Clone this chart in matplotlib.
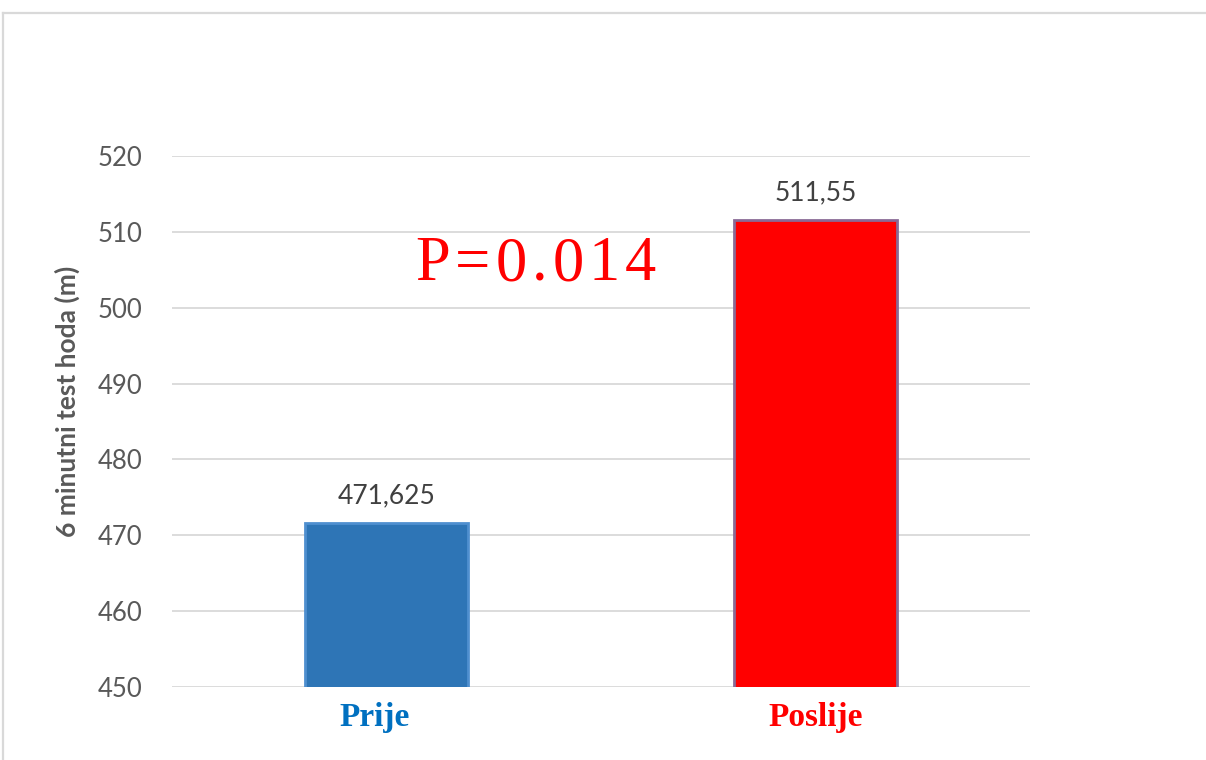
import matplotlib
matplotlib.use('Agg')
import matplotlib.pyplot as plt
import matplotlib.transforms as mtransforms
from matplotlib.lines import Line2D

# data
categories = ['Prije', 'Poslije']
values = [471.625, 511.55]
value_labels = ['471,625', '511,55']
yticks = [450, 460, 470, 480, 490, 500, 510, 520]
ylabel = '6 minutni test hoda (m)'
p_text = 'P=0.014'

bar_colors = ['#2E75B6', '#FF0000']
edge_colors = ['#4F8FCF', '#8A6A96']
cat_colors = ['#0070C0', '#FF0000']

fig = plt.figure(figsize=(12.06, 7.6), dpi=100)
ax = fig.add_axes([172/1206, 1 - 687/760, 858/1206, 531/760])

x = range(len(categories))
ax.bar(x, values, width=0.378, color=bar_colors, edgecolor=edge_colors,
       linewidth=2, zorder=3)

ax.set_xlim(-0.5, 1.5)
ax.set_ylim(450, 520)
ax.set_yticks(yticks)
ax.grid(axis='y', color='#D9D9D9', linewidth=1.3, zorder=0)
for s in ax.spines.values():
    s.set_visible(False)
ax.tick_params(axis='y', length=0, pad=21, labelsize=18.5, labelcolor='#595959')
ax.tick_params(axis='x', length=0, pad=11)
for lbl in ax.get_yticklabels():
    lbl.set_fontfamily('Lato')

ax.set_xticks(list(x))
ax.set_xticklabels(categories, fontfamily='Liberation Serif', fontweight='bold', fontsize=24)
for lbl, c in zip(ax.get_xticklabels(), cat_colors):
    lbl.set_color(c)
# Excel puts the first label a little left of the bar centre
first = ax.get_xticklabels()[0]
first.set_transform(first.get_transform() + mtransforms.ScaledTranslation(-12/100, 0, fig.dpi_scale_trans))

ax.set_ylabel(ylabel, fontfamily='Lato', fontweight='bold', fontsize=19, color='#595959')
ax.yaxis.set_label_coords(-0.107, 0.537)

for xi, v, t in zip(x, values, value_labels):
    ax.annotate(t, xy=(xi, v), xytext=(0, 14), textcoords='offset points',
                ha='center', va='baseline', fontsize=19, color='#404040', fontfamily='Lato')

# P value with widened letter spacing: draw char by char
renderer = fig.canvas.get_renderer()
gap = 5  # extra px between letters
pieces = []
for ch in p_text:
    t = ax.text(0, 0, ch, color='#FF0000', fontsize=45, fontfamily='Liberation Serif',
                ha='left', va='center')
    pieces.append((t, t.get_window_extent(renderer).width))
total = sum(w for _, w in pieces) + gap * (len(pieces) - 1)
cx, cy = ax.transData.transform((0.348, 505.6))
px = cx - total / 2
for t, w in pieces:
    t.set_position(ax.transData.inverted().transform((px, cy)))
    px += w + gap

# outer frame (top and left edges)
fig.add_artist(Line2D([3/1206, 1], [1 - 13/760, 1 - 13/760], color='#D9D9D9', linewidth=1.6,
                      transform=fig.transFigure))
fig.add_artist(Line2D([3/1206, 3/1206], [0, 1 - 13/760], color='#D9D9D9', linewidth=1.6,
                      transform=fig.transFigure))

fig.savefig('out.png', dpi=100)
